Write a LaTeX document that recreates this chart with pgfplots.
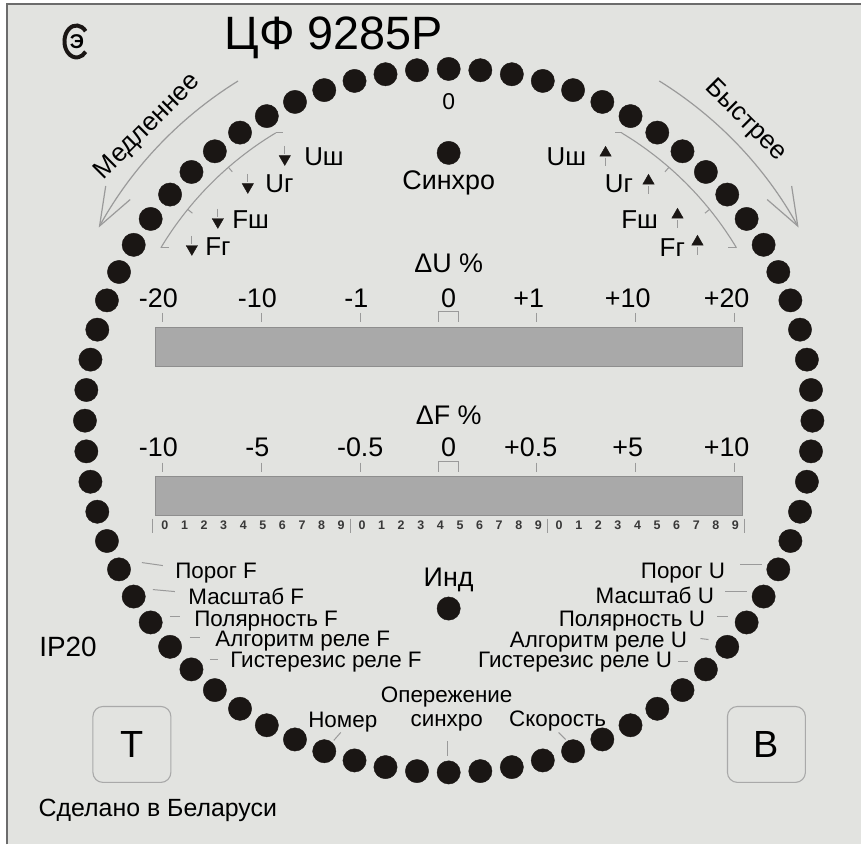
\documentclass[border=0pt]{standalone}
\usepackage{fontspec}
\setmainfont{Liberation Sans}
\usepackage{pgfplots}
\usepackage{pgfplotstable}
\pgfplotsset{compat=1.18}
\usetikzlibrary{arrows.meta}
\definecolor{panel}{HTML}{E2E3E0}
\definecolor{dotc}{HTML}{1A1614}
\definecolor{barf}{HTML}{A9A9A9}
\definecolor{barb}{HTML}{8E8E8E}
\definecolor{lin}{HTML}{9A9A9A}
\definecolor{txt}{HTML}{1A1817}
\newcommand{\fs}[1]{\fontsize{#1}{#1}\selectfont}

% 72 dots of the synchroscope ring (image pixel coordinates, y downwards)
\pgfplotstableread{
x y
813.0 421.0
811.6 390.3
807.5 359.9
800.6 329.9
791.0 300.6
778.9 272.2
764.2 245.0
747.2 219.1
727.8 194.7
706.4 172.1
683.0 151.4
657.8 132.7
631.0 116.2
602.8 102.0
573.5 90.2
543.2 81.0
512.2 74.3
480.7 70.3
449.0 69.0
417.3 70.3
385.8 74.3
354.8 81.0
324.5 90.2
295.2 102.0
267.0 116.2
240.2 132.7
215.0 151.4
191.6 172.1
170.2 194.7
150.8 219.1
133.8 245.0
119.1 272.2
107.0 300.6
97.4 329.9
90.5 359.9
86.4 390.3
85.0 421.0
86.4 451.7
90.5 482.1
97.4 512.1
107.0 541.4
119.1 569.8
133.8 597.0
150.8 622.9
170.2 647.3
191.6 669.9
215.0 690.6
240.2 709.3
267.0 725.8
295.2 740.0
324.5 751.8
354.8 761.0
385.8 767.7
417.3 771.7
449.0 773.0
480.7 771.7
512.2 767.7
543.2 761.0
573.5 751.8
602.8 740.0
631.0 725.8
657.8 709.3
683.0 690.6
706.4 669.9
727.8 647.3
747.2 622.9
764.2 597.0
778.9 569.8
791.0 541.4
800.6 512.1
807.5 482.1
811.6 451.7
}\ringdots

\begin{document}
\begin{tikzpicture}
\begin{axis}[
  width=862bp, height=845bp, scale only axis,
  xmin=0, xmax=862, ymin=0, ymax=845, y dir=reverse,
  hide axis, clip=false,
  every node/.append style={text=txt, inner sep=0pt},
]
% background panel
\addplot[fill=white, draw=none] coordinates {(0,0) (862,0) (862,845) (0,845)} -- cycle;
\addplot[fill=panel, draw=none] coordinates {(7,4) (862,4) (862,845) (7,845)} -- cycle;
\addplot[draw=gray!85!black, line width=1.3bp] coordinates {(7,845) (7,4) (862,4)};

% ring of dots
\addplot[only marks, mark=*, mark size=11.7, mark options={draw=dotc, fill=dotc}] table {\ringdots};
% Sync and Ind dots
\addplot[only marks, mark=*, mark size=11.7, mark options={draw=dotc, fill=dotc}] coordinates {(449,153) (449,609)};

% bars
\addplot[fill=barf, draw=barb, line width=1bp] coordinates {(156,328) (743,328) (743,367) (156,367)} -- cycle;
\addplot[fill=barf, draw=barb, line width=1bp] coordinates {(156,477) (743,477) (743,516) (156,516)} -- cycle;

% title and logo
\node[anchor=base, font=\fs{47}] at (axis cs:334,50) {ЦФ 9285Р};
\draw[dotc, line width=4bp] ([shift={(axis cs:76.5,41.5)}]40:12bp and 16bp) arc[start angle=40, end angle=320, x radius=12bp, y radius=16bp];
\node[font=\fs{20}\bfseries] at (axis cs:77,42) {Э};

% direction arrows
\draw[lin, line width=1.2bp, -{Straight Barb[length=38bp, width=28bp]}] ([shift={(axis cs:449,421)}]121.8:400bp) arc[start angle=121.8, end angle=151.1, radius=400bp];
\draw[lin, line width=1.2bp, -{Straight Barb[length=38bp, width=28bp]}] ([shift={(axis cs:449,421)}]58.2:400bp) arc[start angle=58.2, end angle=28.9, radius=400bp];
\node[rotate=45, font=\fs{26}] at (axis cs:148,127) {Медленнее};
\node[rotate=-45, font=\fs{26}] at (axis cs:746,121) {Быстрее};

% inner brackets
\draw[lin, line width=1.1bp] ([shift={(axis cs:449,421)}]121:336bp) arc[start angle=121, end angle=149, radius=336bp];
\draw[lin, line width=1.1bp] ([shift={(axis cs:449,421)}]59:336bp) arc[start angle=59, end angle=31, radius=336bp];
\draw[lin, line width=1.1bp] ([shift={(axis cs:449,421)}]121:336bp) -- ++(7bp,0);
\draw[lin, line width=1.1bp] ([shift={(axis cs:449,421)}]149:336bp) -- ++(8bp,0);
\draw[lin, line width=1.1bp] ([shift={(axis cs:449,421)}]59:336bp) -- ++(-7bp,0);
\draw[lin, line width=1.1bp] ([shift={(axis cs:449,421)}]31:336bp) -- ++(-8bp,0);
\draw[lin, line width=1bp] ([shift={(axis cs:449,421)}]131:336bp) -- ([shift={(axis cs:449,421)}]131:330bp);
\draw[lin, line width=1bp] ([shift={(axis cs:449,421)}]141:336bp) -- ([shift={(axis cs:449,421)}]141:330bp);
\draw[lin, line width=1bp] ([shift={(axis cs:449,421)}]49:336bp) -- ([shift={(axis cs:449,421)}]49:330bp);
\draw[lin, line width=1bp] ([shift={(axis cs:449,421)}]39:336bp) -- ([shift={(axis cs:449,421)}]39:330bp);

% threshold markers
\addplot[only marks, mark=triangle*, mark size=6.6, mark options={rotate=180, draw=dotc, fill=dotc}] coordinates {(285,159) (248,187) (218,222) (192,249)};
\addplot[only marks, mark=triangle*, mark size=6.6, mark options={draw=dotc, fill=dotc}] coordinates {(606,153) (649,181) (678,215) (698,242)};
\draw[lin, line width=1bp] (axis cs:285,146) -- (axis cs:285,154);
\draw[lin, line width=1bp] (axis cs:248,174) -- (axis cs:248,182);
\draw[lin, line width=1bp] (axis cs:218,209) -- (axis cs:218,217);
\draw[lin, line width=1bp] (axis cs:192,236) -- (axis cs:192,244);
\draw[lin, line width=1bp] (axis cs:606,158) -- (axis cs:606,166);
\draw[lin, line width=1bp] (axis cs:649,186) -- (axis cs:649,194);
\draw[lin, line width=1bp] (axis cs:678,220) -- (axis cs:678,228);
\draw[lin, line width=1bp] (axis cs:698,247) -- (axis cs:698,255);
\node[anchor=base west, font=\fs{26}] at (axis cs:301,166) {Uш};
\node[anchor=base west, font=\fs{26}] at (axis cs:262,193) {Uг};
\node[anchor=base west, font=\fs{26}] at (axis cs:229,229) {Fш};
\node[anchor=base west, font=\fs{26}] at (axis cs:202,256) {Fг};
\node[anchor=base east, font=\fs{26}] at (axis cs:590,166) {Uш};
\node[anchor=base east, font=\fs{26}] at (axis cs:637,193) {Uг};
\node[anchor=base east, font=\fs{26}] at (axis cs:662,229) {Fш};
\node[anchor=base east, font=\fs{26}] at (axis cs:689,257) {Fг};

% centre labels
\node[anchor=base, font=\fs{23}] at (axis cs:449,110) {0};
\node[anchor=base, font=\fs{27}] at (axis cs:449,190) {Синхро};
\node[anchor=base, font=\fs{27}] at (axis cs:449,273) {ΔU \%};
\node[anchor=base, font=\fs{27}] at (axis cs:449,425) {ΔF \%};
\node[anchor=base, font=\fs{27}] at (axis cs:449,587) {Инд};

% scale labels
\node[anchor=base, font=\fs{27}] at (axis cs:163,308) {\llap{-}20};
\node[anchor=base, font=\fs{27}] at (axis cs:262,308) {\llap{-}10};
\node[anchor=base, font=\fs{27}] at (axis cs:361,308) {\llap{-}1};
\node[anchor=base, font=\fs{27}] at (axis cs:449,308) {0};
\node[anchor=base, font=\fs{27}] at (axis cs:537,308) {\llap{+}1};
\node[anchor=base, font=\fs{27}] at (axis cs:636,308) {\llap{+}10};
\node[anchor=base, font=\fs{27}] at (axis cs:735,308) {\llap{+}20};
\node[anchor=base, font=\fs{27}] at (axis cs:163,457) {\llap{-}10};
\node[anchor=base, font=\fs{27}] at (axis cs:262,457) {\llap{-}5};
\node[anchor=base, font=\fs{27}] at (axis cs:365,457) {\llap{-}0.5};
\node[anchor=base, font=\fs{27}] at (axis cs:449,457) {0};
\node[anchor=base, font=\fs{27}] at (axis cs:539,457) {\llap{+}0.5};
\node[anchor=base, font=\fs{27}] at (axis cs:636,457) {\llap{+}5};
\node[anchor=base, font=\fs{27}] at (axis cs:735,457) {\llap{+}10};
\pgfplotsinvokeforeach{163,262,361,537,636,735}{
  \draw[lin, line width=1.1bp] (axis cs:#1,313) -- (axis cs:#1,322);
  \draw[lin, line width=1.1bp] (axis cs:#1,463) -- (axis cs:#1,472);
}
\draw[lin, line width=1.1bp] (axis cs:439,322) -- (axis cs:439,312) -- (axis cs:459,312) -- (axis cs:459,322);
\draw[lin, line width=1.1bp] (axis cs:439,472) -- (axis cs:439,462) -- (axis cs:459,462) -- (axis cs:459,472);

% digit row
\pgfplotsinvokeforeach{0,...,9}{
  \node[anchor=base, font=\fs{12.5}\bfseries, text=black!78] at (axis cs:{165+19.6*#1},530) {#1};
  \node[anchor=base, font=\fs{12.5}\bfseries, text=black!78] at (axis cs:{362.3+19.6*#1},530) {#1};
  \node[anchor=base, font=\fs{12.5}\bfseries, text=black!78] at (axis cs:{559.6+19.6*#1},530) {#1};
}
\pgfplotsinvokeforeach{153,351,548,745}{
  \draw[lin, line width=1.1bp] (axis cs:#1,519) -- (axis cs:#1,533);
}

% left side labels
\node[anchor=base west, font=\fs{22.5}] at (axis cs:172,579) {Порог F};
\node[anchor=base west, font=\fs{22.5}] at (axis cs:185,605) {Масштаб F};
\node[anchor=base west, font=\fs{22.5}] at (axis cs:191,627) {Полярность F};
\node[anchor=base west, font=\fs{22.5}] at (axis cs:212,647) {Алгоритм реле F};
\node[anchor=base west, font=\fs{22.5}] at (axis cs:227,668) {Гистерезис реле F};
\draw[lin, line width=1bp] (axis cs:142,563) -- (axis cs:163,566);
\draw[lin, line width=1bp] (axis cs:153,590) -- (axis cs:175,592);
\draw[lin, line width=1bp] (axis cs:170,617) -- (axis cs:180,617);
\draw[lin, line width=1bp] (axis cs:190,638) -- (axis cs:200,638);
\draw[lin, line width=1bp] (axis cs:210,660) -- (axis cs:218,660);

% right side labels
\node[anchor=base east, font=\fs{22.5}] at (axis cs:729,579) {Порог U};
\node[anchor=base east, font=\fs{22.5}] at (axis cs:718,604) {Масштаб U};
\node[anchor=base east, font=\fs{22.5}] at (axis cs:709,627) {Полярность U};
\node[anchor=base east, font=\fs{22.5}] at (axis cs:691,648) {Алгоритм реле U};
\node[anchor=base east, font=\fs{22.5}] at (axis cs:676,668) {Гистерезис реле U};
\draw[lin, line width=1bp] (axis cs:741,565) -- (axis cs:763,565);
\draw[lin, line width=1bp] (axis cs:726,592) -- (axis cs:748,592);
\draw[lin, line width=1bp] (axis cs:718,617) -- (axis cs:729,617);
\draw[lin, line width=1bp] (axis cs:701,639) -- (axis cs:709,640);
\draw[lin, line width=1bp] (axis cs:679,662) -- (axis cs:689,662);

% bottom labels
\node[anchor=base, font=\fs{22.5}] at (axis cs:447,703) {Опережение};
\node[anchor=base, font=\fs{22.5}] at (axis cs:447,727) {синхро};
\node[anchor=base, font=\fs{22.5}] at (axis cs:343,728) {Номер};
\node[anchor=base, font=\fs{22.5}] at (axis cs:558,727) {Скорость};
\draw[lin, line width=1bp] (axis cs:448,742) -- (axis cs:448,757);
\draw[lin, line width=1bp] (axis cs:334,741) -- (axis cs:341,733);
\draw[lin, line width=1bp] (axis cs:559,733) -- (axis cs:566,740);

% corner items
\node[anchor=base, font=\fs{28}] at (axis cs:68,657) {IP20};
\draw[lin!85, line width=1.1bp, rounded corners=10bp] (axis cs:93,707) rectangle (axis cs:171,783);
\draw[lin!85, line width=1.1bp, rounded corners=10bp] (axis cs:728,707) rectangle (axis cs:806,783);
\node[anchor=base, font=\fs{38}] at (axis cs:132,758) {T};
\node[anchor=base, font=\fs{38}] at (axis cs:767,758) {В};
\node[anchor=base, font=\fs{25}] at (axis cs:158,817) {Сделано в Беларуси};
\end{axis}
\end{tikzpicture}
\end{document}
